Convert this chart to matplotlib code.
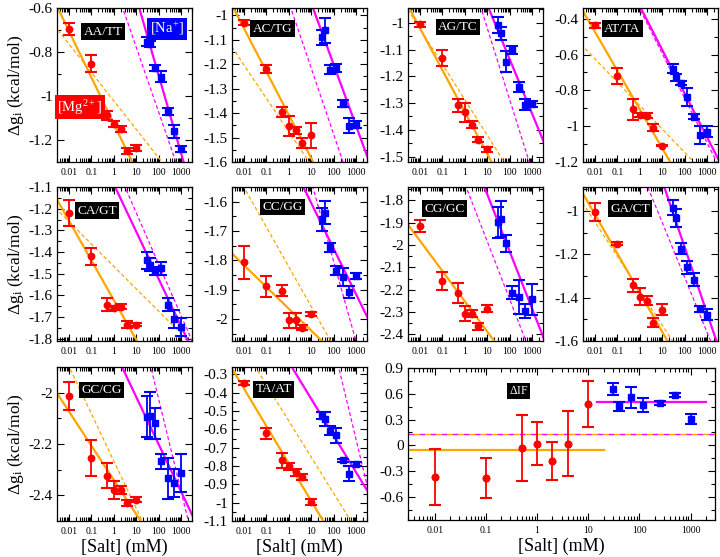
import numpy as np
import matplotlib
matplotlib.use('Agg')
import matplotlib.pyplot as plt
from matplotlib.ticker import FixedLocator, LogLocator, MultipleLocator, AutoMinorLocator, FuncFormatter, NullFormatter

plt.rcParams['font.family'] = ['Liberation Serif', 'DejaVu Serif']
plt.rcParams['axes.unicode_minus'] = False
plt.rcParams['mathtext.fontset'] = 'custom'
plt.rcParams['mathtext.rm'] = 'Liberation Serif'
plt.rcParams['mathtext.it'] = 'Liberation Serif:italic'
plt.rcParams['mathtext.bf'] = 'Liberation Serif:bold'

# ---------------- data ----------------
mg_salt = [0.01, 0.1, 0.5, 1, 2, 4, 10]
na_salt = [30, 40, 70, 120, 250, 500, 1000]
xticks_vals = [0.01, 0.1, 1, 10, 100, 1000]

AA_TT_mg = [-0.695, -0.853, -1.087, -1.128, -1.150, -1.250, -1.236]
AA_TT_mg_err = [0.028, 0.040, 0.020, 0.015, 0.012, 0.012, 0.012]
AA_TT_na = [-0.754, -0.763, -0.872, -0.912, -1.071, -1.161, -1.241]
AA_TT_na_err = [0.020, 0.015, 0.015, 0.025, 0.015, 0.030, 0.015]
AA_TT_fit = [(-1.126, -0.2115), (-1.022, -0.1296), (-0.198, -0.355), (-0.4825, -0.296)]

AC_TG_mg = [-1.031, -1.220, -1.396, -1.453, -1.470, -1.523, -1.491]
AC_TG_mg_err = [0.010, 0.015, 0.020, 0.040, 0.015, 0.020, 0.050]
AC_TG_na = [-1.090, -1.062, -1.222, -1.215, -1.362, -1.451, -1.447]
AC_TG_na_err = [0.030, 0.050, 0.020, 0.015, 0.015, 0.030, 0.015]
AC_TG_fit = [(-1.407, -0.1777), (-1.476, -0.137), (-0.699, -0.2518), (-0.945, -0.2715)]

AG_TC_mg = [-1.006, -1.130, -1.309, -1.334, -1.380, -1.436, -1.473]
AG_TC_mg_err = [0.010, 0.030, 0.025, 0.035, 0.012, 0.010, 0.008]
AG_TC_na = [-1.009, -1.040, -1.145, -1.102, -1.240, -1.306, -1.303]
AG_TC_na_err = [0.030, 0.025, 0.040, 0.015, 0.020, 0.020, 0.012]
AG_TC_fit = [(-1.333, -0.157), (-1.287, -0.133), (-0.729, -0.204), (-0.752, -0.268)]

AT_TA_mg = [-0.4375, -0.722, -0.906, -0.938, -0.941, -1.009, -1.108]
AT_TA_mg_err = [0.014, 0.045, 0.058, 0.010, 0.015, 0.020, 0.005]
AT_TA_na = [-0.679, -0.726, -0.760, -0.835, -0.947, -1.050, -1.031]
AT_TA_na_err = [0.025, 0.020, 0.010, 0.050, 0.015, 0.050, 0.030]
AT_TA_fit = [(-0.906, -0.2173), (-0.885, -0.131), (-0.329, -0.245), (-0.345, -0.25)]

CA_GT_mg = [-1.218, -1.420, -1.643, -1.658, -1.651, -1.734, -1.734]
CA_GT_mg_err = [0.060, 0.040, 0.030, 0.010, 0.010, 0.015, 0.008]
CA_GT_na = [-1.438, -1.458, -1.488, -1.474, -1.642, -1.708, -1.746]
CA_GT_na_err = [0.040, 0.030, 0.020, 0.030, 0.030, 0.040, 0.040]
CA_GT_fit = [(-1.621, -0.1835), (-1.466, -0.1036), (-1.087, -0.219), (-0.981, -0.238)]

CC_GG_mg = [-1.807, -1.889, -1.903, -2.005, -2.005, -2.029, -1.983]
CC_GG_mg_err = [0.057, 0.035, 0.020, 0.025, 0.025, 0.010, 0.008]
CC_GG_na = [-1.660, -1.637, -1.755, -1.836, -1.857, -1.909, -1.852]
CC_GG_na_err = [0.040, 0.040, 0.015, 0.015, 0.030, 0.020, 0.010]
CC_GG_fit = [(-1.965, -0.0746), (-1.822, -0.136), (-1.449, -0.156), (-1.257, -0.274)]

CG_GC_mg = [-1.916, -2.163, -2.214, -2.307, -2.307, -2.365, -2.285]
CG_GC_mg_err = [0.027, 0.040, 0.045, 0.035, 0.015, 0.015, 0.015]
CG_GC_na = [-1.898, -1.883, -1.993, -2.214, -2.232, -2.296, -2.243]
CG_GC_na_err = [0.070, 0.080, 0.040, 0.030, 0.075, 0.030, 0.070]
CG_GC_fit = [(-2.252, -0.1362), None, (-1.516, -0.257), (-1.724, -0.26)]

GA_CT_mg = [-1.006, -1.151, -1.343, -1.396, -1.414, -1.516, -1.455]
GA_CT_mg_err = [0.040, 0.008, 0.030, 0.040, 0.020, 0.020, 0.025]
GA_CT_na = [-0.985, -1.033, -1.174, -1.259, -1.318, -1.452, -1.478]
GA_CT_na_err = [0.035, 0.040, 0.025, 0.030, 0.030, 0.015, 0.025]
GA_CT_fit = [(-1.377, -0.181), (-1.368, -0.159), (-0.557, -0.306), (-0.80, -0.254)]

GC_CG_mg = [-2.013, -2.255, -2.323, -2.380, -2.380, -2.430, -2.417]
GC_CG_mg_err = [0.055, 0.070, 0.050, 0.035, 0.015, 0.010, 0.010]
GC_CG_na = [-2.094, -2.089, -2.120, -2.268, -2.334, -2.352, -2.313]
GC_CG_na_err = [0.080, 0.090, 0.060, 0.030, 0.080, 0.055, 0.075]
GC_CG_fit = [(-2.34, -0.134), (-2.266, -0.185), (-1.832, -0.185), (-1.307, -0.36)]

TA_AT_mg = [-0.349, -0.620, -0.769, -0.801, -0.834, -0.859, -0.995]
TA_AT_mg_err = [0.010, 0.030, 0.040, 0.020, 0.020, 0.015, 0.015]
TA_AT_na = [-0.526, -0.544, -0.608, -0.633, -0.769, -0.841, -0.789]
TA_AT_na_err = [0.020, 0.040, 0.025, 0.040, 0.008, 0.040, 0.012]
TA_AT_fit = [(-0.786, -0.205), (-0.554, -0.198), (-0.233, -0.201), (0.87, -0.51)]

dIF_mg = [-0.366, -0.378, -0.035, 0.019, -0.187, 0.019, 0.483]
dIF_mg_err = [0.327, 0.230, 0.385, 0.250, 0.220, 0.380, 0.265]
dIF_na = [0.658, 0.452, 0.557, 0.467, 0.491, 0.588, 0.304]
dIF_na_err = [0.070, 0.050, 0.120, 0.080, 0.025, 0.020, 0.055]
dIF_mg_mean = -0.058
dIF_na_mean = 0.499
dIF_ref = 0.136

# ---------------- style ----------------
RED = '#ff0000'
BLUE = '#0000ff'
ORANGE = '#ffa500'
MAGENTA = '#ff00ff'

W, H = 720, 557
fig = plt.figure(figsize=(W / 100, H / 100), dpi=100)

col_left = [57, 232, 408, 583]
row_top = [8, 187, 367]
pw, ph = 135, 154


def make_ax(left, top, w, h):
    return fig.add_axes([left / W, 1 - (top + h) / H, w / W, h / H])


def fmt(v, pos=None):
    v = round(v, 6)
    if abs(v) < 1e-9:
        v = 0.0
    return '%g' % v


def style_axes(ax, ystep, xlabelsize=7):
    ax.set_xscale('log')
    ax.set_xlim(0.003, 3000)
    ax.xaxis.set_major_locator(FixedLocator(xticks_vals))
    ax.xaxis.set_major_formatter(FuncFormatter(fmt))
    ax.xaxis.set_minor_locator(LogLocator(base=10, subs=np.arange(2, 10), numticks=20))
    ax.xaxis.set_minor_formatter(NullFormatter())
    ax.yaxis.set_major_locator(MultipleLocator(ystep))
    ax.yaxis.set_minor_locator(AutoMinorLocator(2))
    ax.yaxis.set_major_formatter(FuncFormatter(fmt))
    ax.tick_params(which='both', direction='in', top=True, right=True, width=0.8)
    ax.tick_params(which='major', length=5)
    ax.tick_params(which='minor', length=3)
    ax.tick_params(axis='x', labelsize=xlabelsize, pad=4)
    ax.tick_params(axis='y', labelsize=11, pad=3)
    for s in ax.spines.values():
        s.set_linewidth(0.9)


def label_box(ax, x, y, text, fc='black', size=9.5):
    ax.text(x, y, text, transform=ax.transAxes, ha='center', va='center',
            color='white', fontsize=size, zorder=10,
            bbox=dict(boxstyle='square,pad=0.18', fc=fc, ec='none'))


xline = np.logspace(-3, 4, 60)

panels = [
    ('AA/TT', AA_TT_mg, AA_TT_mg_err, AA_TT_na, AA_TT_na_err, AA_TT_fit, (-1.3, -0.6), 0.2, (0.34, 0.845), 0, 0),
    ('AC/TG', AC_TG_mg, AC_TG_mg_err, AC_TG_na, AC_TG_na_err, AC_TG_fit, (-1.6, -0.97), 0.1, (0.30, 0.865), 0, 1),
    ('AG/TC', AG_TC_mg, AG_TC_mg_err, AG_TC_na, AG_TC_na_err, AG_TC_fit, (-1.52, -0.945), 0.1, (0.37, 0.877), 0, 2),
    ('AT/TA', AT_TA_mg, AT_TA_mg_err, AT_TA_na, AT_TA_na_err, AT_TA_fit, (-1.2, -0.34), 0.2, (0.29, 0.865), 0, 3),
    ('CA/GT', CA_GT_mg, CA_GT_mg_err, CA_GT_na, CA_GT_na_err, CA_GT_fit, (-1.81, -1.1), 0.1, (0.296, 0.845), 1, 0),
    ('CC/GG', CC_GG_mg, CC_GG_mg_err, CC_GG_na, CC_GG_na_err, CC_GG_fit, (-2.075, -1.55), 0.1, (0.373, 0.87), 1, 1),
    ('CG/GC', CG_GC_mg, CG_GC_mg_err, CG_GC_na, CG_GC_na_err, CG_GC_fit, (-2.43, -1.74), 0.1, (0.27, 0.86), 1, 2),
    ('GA/CT', GA_CT_mg, GA_CT_mg_err, GA_CT_na, GA_CT_na_err, GA_CT_fit, (-1.6, -0.89), 0.2, (0.35, 0.86), 1, 3),
    ('GC/CG', GC_CG_mg, GC_CG_mg_err, GC_CG_na, GC_CG_na_err, GC_CG_fit, (-2.5, -1.9), 0.2, (0.33, 0.85), 2, 0),
    ('TA/AT', TA_AT_mg, TA_AT_mg_err, TA_AT_na, TA_AT_na_err, TA_AT_fit, (-1.1, -0.26), 0.1, (0.31, 0.856), 2, 1),
]

ebkw = dict(linestyle='none', elinewidth=1.3, capsize=4.3, capthick=1.5)

for (name, mg, mge, na, nae, fits, ylim, ystep, lpos, r, c) in panels:
    ax = make_ax(col_left[c], row_top[r], pw, ph)
    style_axes(ax, ystep)
    ax.set_ylim(*ylim)
    styles = [(ORANGE, '-', 1.6), (ORANGE, (0, (3, 2)), 0.9),
              (MAGENTA, '-', 1.6), (MAGENTA, (0, (3, 2)), 0.9)]
    for f, (col, ls, lw) in zip(fits, styles):
        if f is None:
            continue
        a, b = f
        ax.plot(xline, a + b * np.log10(xline), color=col, ls=ls, lw=lw, zorder=2)
    ax.errorbar(mg_salt, mg, yerr=mge, color=RED, marker='o', ms=4.6, zorder=3, **ebkw)
    ax.errorbar(na_salt, na, yerr=nae, color=BLUE, marker='s', ms=4.2, zorder=3, **ebkw)
    label_box(ax, lpos[0], lpos[1], name)
    if c == 0:
        ax.set_ylabel(r'$\Delta$g$_\mathrm{i}$ (kcal/mol)', fontsize=12.5, labelpad=2)
    if r == 2:
        ax.set_xlabel('[Salt] (mM)', fontsize=13, labelpad=2)
    if name == 'AA/TT':
        label_box(ax, 0.815, 0.865, r'[Na$^{+}$]', fc=BLUE, size=10.5)
        label_box(ax, 0.17, 0.355, r'[Mg$^{2+}$]', fc=RED, size=10.5)

# ---------------- big panel ----------------
ax = make_ax(408, 368, 307, 152)
style_axes(ax, 0.3)
ax.set_ylim(-0.87, 0.9)
ax.plot([0.003, 20], [dIF_mg_mean, dIF_mg_mean], color=ORANGE, lw=1.6, zorder=2)
ax.plot([15, 2000], [dIF_na_mean, dIF_na_mean], color=MAGENTA, lw=1.6, zorder=2)
ax.plot([0.003, 3000], [dIF_ref, dIF_ref], color=MAGENTA, lw=1.0, ls=(0, (4, 4)), zorder=2)
ax.plot([0.003, 3000], [dIF_ref, dIF_ref], color=ORANGE, lw=1.0, ls=(4, (4, 4)), zorder=2)
ax.errorbar(mg_salt, dIF_mg, yerr=dIF_mg_err, color=RED, marker='o', ms=4.8, zorder=3, **ebkw)
ax.errorbar(na_salt, dIF_na, yerr=dIF_na_err, color=BLUE, marker='s', ms=4.0, zorder=3, **ebkw)
label_box(ax, 0.36, 0.85, r'$\Delta$IF', size=8.5)
ax.set_xlabel('[Salt] (mM)', fontsize=13, labelpad=2)

fig.savefig('out.png', dpi=100)
